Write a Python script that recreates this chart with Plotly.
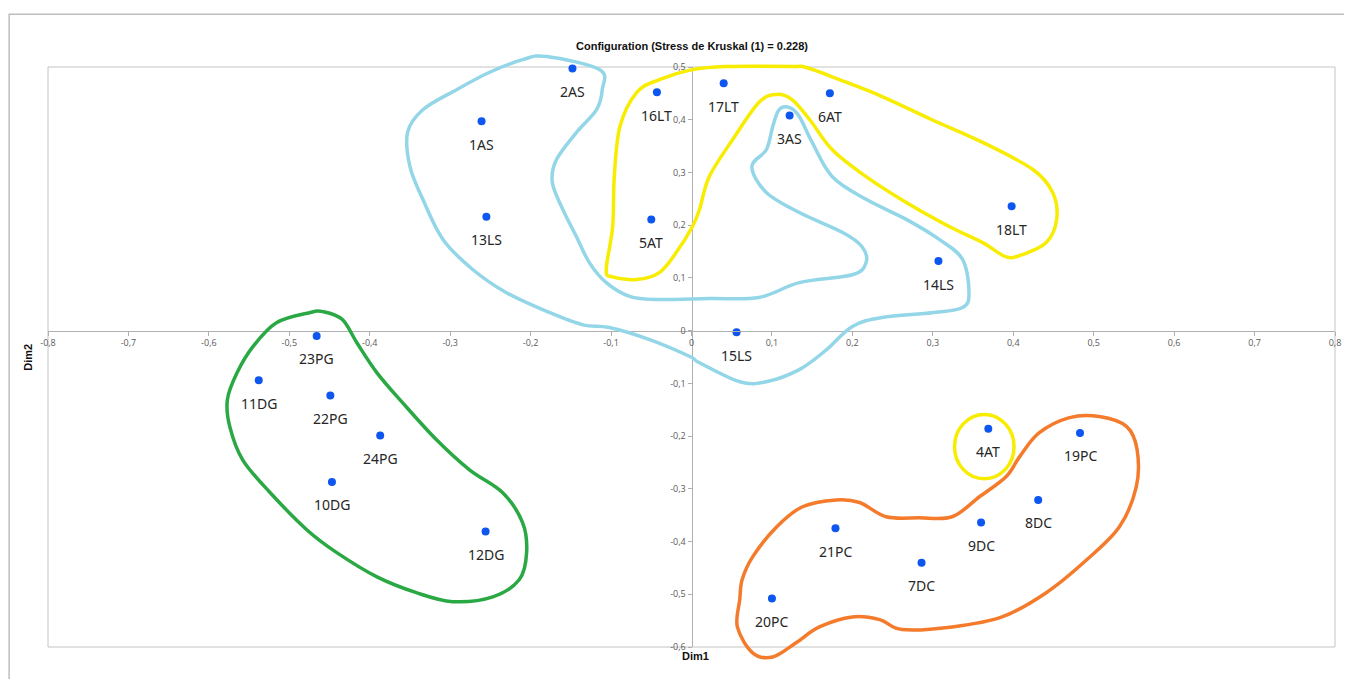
import plotly.graph_objects as go

# ---- data ----
labels = ["1AS", "2AS", "3AS", "4AT", "5AT", "6AT", "7DC", "8DC", "9DC", "10DG", "11DG", "12DG",
          "13LS", "14LS", "15LS", "16LT", "17LT", "18LT", "19PC", "20PC", "21PC", "22PG", "23PG", "24PG"]
dim1 = [-0.261, -0.148, 0.122, 0.369, -0.050, 0.172, 0.286, 0.431, 0.360, -0.447, -0.538, -0.256,
        -0.255, 0.307, 0.056, -0.043, 0.040, 0.398, 0.483, 0.100, 0.179, -0.449, -0.466, -0.387]
dim2 = [0.397, 0.497, 0.408, -0.186, 0.211, 0.450, -0.440, -0.321, -0.364, -0.287, -0.094, -0.381,
        0.216, 0.132, -0.003, 0.452, 0.469, 0.236, -0.194, -0.508, -0.375, -0.123, -0.010, -0.199]

x_ticks = [-0.8, -0.7, -0.6, -0.5, -0.4, -0.3, -0.2, -0.1, 0, 0.1, 0.2, 0.3, 0.4, 0.5, 0.6, 0.7, 0.8]
x_tick_text = ["-0,8", "-0,7", "-0,6", "-0,5", "-0,4", "-0,3", "-0,2", "-0,1", "0",
               "0,1", "0,2", "0,3", "0,4", "0,5", "0,6", "0,7", "0,8"]
y_ticks = [-0.6, -0.5, -0.4, -0.3, -0.2, -0.1, 0, 0.1, 0.2, 0.3, 0.4, 0.5]
y_tick_text = ["-0,6", "-0,5", "-0,4", "-0,3", "-0,2", "-0,1", "0", "0,1", "0,2", "0,3", "0,4", "0,5"]

# hand-drawn group outlines (data coordinates)
blue_x = [-0.180, -0.114, -0.111, -0.118, -0.143, -0.168, -0.173, -0.160, -0.143, -0.127, -0.106, -0.077,
          -0.043, 0.022, 0.084, 0.134, 0.200, 0.217, 0.212, 0.188, 0.134, 0.093, 0.075, 0.093, 0.101,
          0.109, 0.122, 0.134, 0.150, 0.175, 0.217, 0.267, 0.308, 0.337, 0.345, 0.337, 0.299, 0.237,
          0.200, 0.168, 0.134, 0.093, 0.060, 0.010, -0.002, -0.052, -0.102, -0.135, -0.176, -0.230,
          -0.272, -0.309, -0.334, -0.350, -0.353, -0.334, -0.292, -0.251, -0.210]
blue_y = [0.520, 0.495, 0.457, 0.419, 0.376, 0.324, 0.281, 0.230, 0.178, 0.129, 0.091, 0.065,
          0.059, 0.061, 0.063, 0.091, 0.106, 0.129, 0.159, 0.186, 0.224, 0.262, 0.311, 0.343, 0.387,
          0.419, 0.423, 0.406, 0.357, 0.292, 0.249, 0.211, 0.173, 0.135, 0.072, 0.044, 0.034, 0.025,
          0.008, -0.036, -0.074, -0.097, -0.097, -0.061, -0.049, -0.017, 0.006, 0.011, 0.034, 0.072,
          0.116, 0.173, 0.249, 0.311, 0.376, 0.419, 0.457, 0.490, 0.514]

yellow_x = [-0.106, -0.098, -0.096, -0.089, -0.068, -0.040, 0.001, 0.043, 0.125, 0.143, 0.184, 0.237,
            0.299, 0.362, 0.424, 0.449, 0.454, 0.441, 0.411, 0.391, 0.362, 0.321, 0.267, 0.217, 0.175,
            0.147, 0.125, 0.106, 0.084, 0.051, 0.022, 0.010, 0.001, -0.019, -0.040, -0.068, -0.098]
yellow_y = [0.116, 0.197, 0.292, 0.387, 0.452, 0.476, 0.495, 0.501, 0.501, 0.499, 0.476, 0.444,
            0.400, 0.357, 0.306, 0.262, 0.211, 0.167, 0.144, 0.140, 0.167, 0.197, 0.243, 0.292, 0.343,
            0.400, 0.438, 0.448, 0.433, 0.362, 0.292, 0.230, 0.197, 0.148, 0.110, 0.097, 0.102]

circle4_x = [0.327, 0.401]
circle4_y = [-0.281, -0.159]

green_x = [-0.475, -0.516, -0.545, -0.565, -0.577, -0.574, -0.558, -0.524, -0.478, -0.441, -0.391,
           -0.342, -0.297, -0.247, -0.214, -0.205, -0.210, -0.235, -0.276, -0.317, -0.359, -0.391,
           -0.416, -0.434, -0.458]
green_y = [0.034, 0.015, -0.030, -0.080, -0.131, -0.182, -0.245, -0.307, -0.378, -0.421, -0.467,
           -0.497, -0.514, -0.505, -0.472, -0.421, -0.364, -0.307, -0.264, -0.207, -0.137, -0.080,
           -0.023, 0.021, 0.036]

orange_x = [0.060, 0.057, 0.076, 0.101, 0.130, 0.159, 0.200, 0.234, 0.262, 0.324, 0.386, 0.441, 0.491,
            0.532, 0.553, 0.554, 0.541, 0.507, 0.470, 0.432, 0.408, 0.391, 0.358, 0.324, 0.283, 0.242,
            0.209, 0.180, 0.138, 0.106, 0.076, 0.063]
orange_y = [-0.510, -0.562, -0.611, -0.619, -0.592, -0.562, -0.543, -0.548, -0.567, -0.562, -0.543,
            -0.497, -0.435, -0.372, -0.296, -0.226, -0.182, -0.163, -0.165, -0.194, -0.239, -0.277,
            -0.315, -0.353, -0.355, -0.353, -0.326, -0.321, -0.334, -0.372, -0.429, -0.472]

X_RANGE = [-0.8, 0.8]
Y_RANGE = [-0.6, 0.5]


def to_paper(x, y):
    return ((x - X_RANGE[0]) / (X_RANGE[1] - X_RANGE[0]),
            (y - Y_RANGE[0]) / (Y_RANGE[1] - Y_RANGE[0]))


def smooth_closed_path(xs, ys):
    pts = [to_paper(a, b) for a, b in zip(xs, ys)]
    n = len(pts)
    d = "M %.5f %.5f" % pts[0]
    for i in range(n):
        p0 = pts[(i - 1) % n]
        p1 = pts[i]
        p2 = pts[(i + 1) % n]
        p3 = pts[(i + 2) % n]
        c1 = (p1[0] + (p2[0] - p0[0]) / 6, p1[1] + (p2[1] - p0[1]) / 6)
        c2 = (p2[0] - (p3[0] - p1[0]) / 6, p2[1] - (p3[1] - p1[1]) / 6)
        d += " C %.5f %.5f, %.5f %.5f, %.5f %.5f" % (c1[0], c1[1], c2[0], c2[1], p2[0], p2[1])
    return d + " Z"


fig = go.Figure()
fig.add_trace(go.Scatter(
    x=dim1, y=dim2, mode="markers",
    marker=dict(color="#0d56ef", size=8),
    cliponaxis=False, showlegend=False, hoverinfo="text", text=labels,
))

shapes = [
    # plot-area frame
    dict(type="rect", xref="paper", yref="paper", x0=0, y0=0, x1=1, y1=1,
         line=dict(color="#c4c4c4", width=1), layer="below"),
    # outer chart frame
    dict(type="rect", xref="paper", yref="paper", x0=-0.0302, y0=-0.2, x1=1.05, y1=1.091,
         line=dict(color="#bdbdbd", width=1.5), layer="below"),
]
for xs, ys, col in [(blue_x, blue_y, "#93d6e8"), (yellow_x, yellow_y, "#f8ec00"),
                    (green_x, green_y, "#2aa843"), (orange_x, orange_y, "#f47b2b")]:
    shapes.append(dict(type="path", xref="paper", yref="paper", path=smooth_closed_path(xs, ys),
                       line=dict(color=col, width=3.5), layer="above"))
cx0, cy0 = to_paper(circle4_x[0], circle4_y[0])
cx1, cy1 = to_paper(circle4_x[1], circle4_y[1])
shapes.append(dict(type="circle", xref="paper", yref="paper", x0=cx0, y0=cy0, x1=cx1, y1=cy1,
                   line=dict(color="#f8ec00", width=3.5), layer="above"))

annotations = [dict(x=a, y=b, xref="x", yref="y", text=t, showarrow=False, yshift=-23,
                    font=dict(family="Noto Sans, Open Sans, sans-serif", size=14, color="#262626"))
               for a, b, t in zip(dim1, dim2, labels)]
annotations += [
    dict(x=0.5, y=1.05, xref="paper", yref="paper", showarrow=False,
         text="<b>Configuration (Stress de Kruskal (1) = 0.228)</b>",
         font=dict(family="Liberation Sans Narrow, Liberation Sans, sans-serif", size=11, color="#111")),
    dict(x=0.503, y=-0.03, xref="paper", yref="paper", showarrow=False, text="<b>Dim1</b>",
         font=dict(family="Liberation Sans Narrow, Liberation Sans, sans-serif", size=11, color="#111")),
    dict(x=-0.022, y=0.5, xref="paper", yref="paper", showarrow=False, text="<b>Dim2</b>", textangle=-90,
         font=dict(family="Liberation Sans Narrow, Liberation Sans, sans-serif", size=11, color="#111")),
]

tick_font = dict(family="Open Sans, sans-serif", size=9, color="#5a5a5a")
fig.update_layout(
    width=1344, height=671,
    margin=dict(l=40, r=17, t=59, b=32),
    paper_bgcolor="white", plot_bgcolor="white",
    shapes=shapes, annotations=annotations,
    xaxis=dict(range=X_RANGE, tickvals=x_ticks, ticktext=x_tick_text, anchor="free",
               position=(0 - Y_RANGE[0]) / (Y_RANGE[1] - Y_RANGE[0]),
               showline=True, linecolor="#b0b0b0", linewidth=1, ticks="outside", ticklen=4,
               tickcolor="#b0b0b0", showgrid=False, zeroline=False, tickfont=tick_font),
    yaxis=dict(range=Y_RANGE, tickvals=y_ticks, ticktext=y_tick_text, anchor="free",
               position=(0 - X_RANGE[0]) / (X_RANGE[1] - X_RANGE[0]),
               showline=True, linecolor="#b0b0b0", linewidth=1, ticks="outside", ticklen=4,
               tickcolor="#b0b0b0", showgrid=False, zeroline=False, tickfont=tick_font),
)

fig.write_html("out.html")
